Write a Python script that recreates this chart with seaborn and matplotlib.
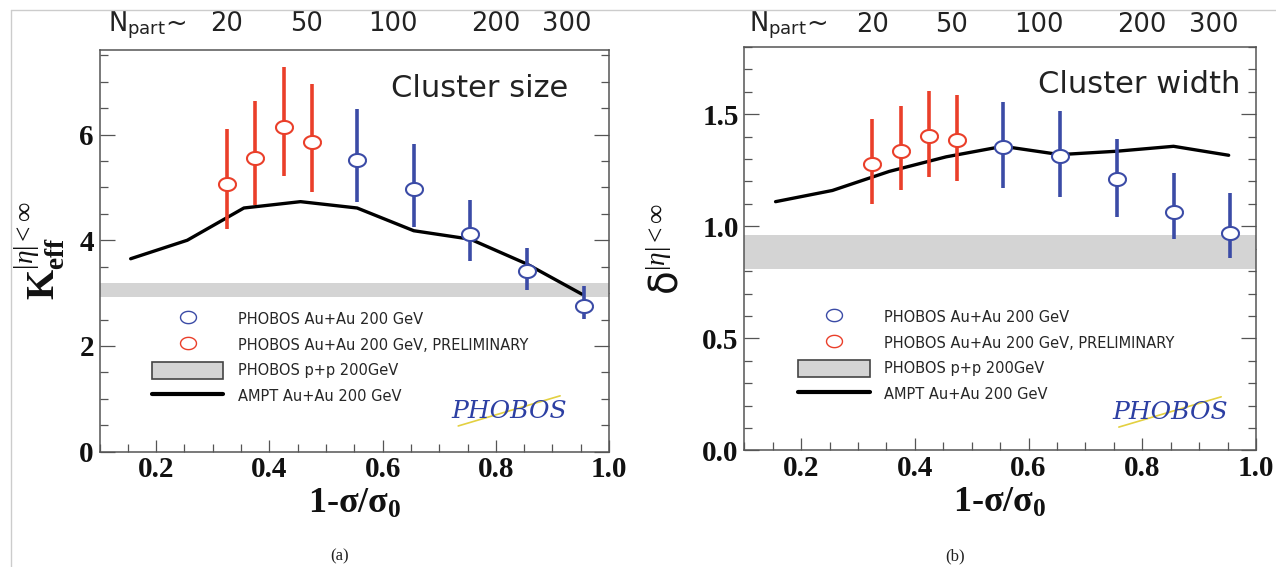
import numpy as np
import matplotlib
matplotlib.use("Agg")
import matplotlib.pyplot as plt
from matplotlib.lines import Line2D
from matplotlib.patches import Patch
from matplotlib.ticker import MultipleLocator
from matplotlib.transforms import blended_transform_factory
import seaborn as sns

# centrality (1 - sigma/sigma0) of the points
x_prelim = [0.325, 0.375, 0.425, 0.475]
x_final = [0.555, 0.655, 0.755, 0.855, 0.955]
x_ampt = [0.155, 0.255, 0.355, 0.455, 0.555, 0.655, 0.755, 0.855, 0.952]

# (a) cluster size K_eff
k_prelim = [5.07, 5.56, 6.14, 5.86]
k_prelim_lo = [4.21, 4.67, 5.22, 4.92]
k_prelim_hi = [6.11, 6.63, 7.27, 6.95]
k_final = [5.51, 4.96, 4.12, 3.41, 2.76]
k_final_lo = [4.73, 4.25, 3.61, 3.06, 2.51]
k_final_hi = [6.49, 5.83, 4.76, 3.85, 3.14]
k_ampt = [3.65, 4.00, 4.61, 4.73, 4.61, 4.18, 4.02, 3.55, 2.98]
k_pp = [2.92, 3.20]

# (b) cluster width delta
w_prelim = [1.28, 1.335, 1.405, 1.385]
w_prelim_lo = [1.10, 1.16, 1.22, 1.20]
w_prelim_hi = [1.48, 1.535, 1.605, 1.585]
w_final = [1.355, 1.315, 1.21, 1.065, 0.97]
w_final_lo = [1.17, 1.13, 1.04, 0.945, 0.86]
w_final_hi = [1.555, 1.515, 1.39, 1.24, 1.15]
w_ampt = [1.11, 1.16, 1.245, 1.31, 1.357, 1.32, 1.335, 1.357, 1.317]
w_pp = [0.81, 0.96]

# N_part scale written above the panels
npart_labels = ["20", "50", "100", "200", "300"]
npart_pos = [0.325, 0.465, 0.618, 0.80, 0.925]

legend_labels = ["PHOBOS Au+Au 200 GeV", "PHOBOS Au+Au 200 GeV, PRELIMINARY",
                 "PHOBOS p+p 200GeV", "AMPT Au+Au 200 GeV"]

sns.set_theme(style="ticks")
plt.rcParams["font.family"] = ["DejaVu Sans"]
plt.rcParams["mathtext.fontset"] = "custom"
plt.rcParams["mathtext.rm"] = "Liberation Serif"
plt.rcParams["mathtext.it"] = "Liberation Serif:italic"
plt.rcParams["mathtext.bf"] = "Liberation Serif:bold"
plt.rcParams["mathtext.sf"] = "DejaVu Sans"

BLUE = "#3b4ba6"
RED = "#ea3f2a"
BAND = "#d4d4d4"
AXC = "#555555"

# the published figure is stretched sideways, so the circles are ellipses
t = np.linspace(0, 2 * np.pi, 60)
ellipse = np.column_stack([1.3 * np.cos(t), np.sin(t)])


def draw_panel(ax, prelim, prelim_lo, prelim_hi, final, final_lo, final_hi,
               ampt, pp, ylim, major, minor):
    ax.axhspan(pp[0], pp[1], color=BAND, lw=0, zorder=1)
    sns.lineplot(x=x_ampt, y=ampt, color="black", lw=2.4, ax=ax, zorder=2, legend=False)
    for xs, ys, lo, hi, c in [(x_prelim, prelim, prelim_lo, prelim_hi, RED),
                              (x_final, final, final_lo, final_hi, BLUE)]:
        ys = np.array(ys)
        err = [ys - np.array(lo), np.array(hi) - ys]
        ax.errorbar(xs, ys, yerr=err, fmt="none", ecolor=c, elinewidth=2.6,
                    capsize=0, zorder=3)
        sns.scatterplot(x=xs, y=ys, marker=ellipse, s=150, color=c, facecolor="white",
                        edgecolor=c, linewidth=1.5, ax=ax, zorder=4, legend=False)

    ax.set_xlim(0.1, 1.0)
    ax.set_ylim(*ylim)
    ax.xaxis.set_major_locator(MultipleLocator(0.2))
    ax.xaxis.set_minor_locator(MultipleLocator(0.05))
    ax.yaxis.set_major_locator(MultipleLocator(major))
    ax.yaxis.set_minor_locator(MultipleLocator(minor))
    ax.tick_params(which="both", direction="in", left=True, right=True, bottom=True,
                   top=False, color=AXC, width=0.9, labelsize=21, labelcolor="#111111")
    ax.tick_params(which="major", length=11)
    ax.tick_params(which="minor", length=5.5)
    ax.tick_params(axis="x", which="major", length=9, pad=3)
    ax.tick_params(axis="y", which="major", pad=4)
    plt.setp(ax.get_xticklabels() + ax.get_yticklabels(),
             family="Liberation Serif", weight="bold")
    for s in ax.spines.values():
        s.set_color(AXC)
        s.set_linewidth(1.1)

    ax.set_xlabel(r"1-σ/σ$_{\mathbf{0}}$", family="Liberation Serif", weight="bold",
                  fontsize=26, color="#111111")
    ax.xaxis.set_label_coords(0.5, -0.09)

    handles = [Line2D([], [], marker=ellipse, ls="none", mfc="white", mec=BLUE, ms=11.5, mew=1.0),
               Line2D([], [], marker=ellipse, ls="none", mfc="white", mec=RED, ms=11.5, mew=1.0),
               Patch(facecolor=BAND, edgecolor="#444444", lw=1.2),
               Line2D([], [], color="black", lw=3)]
    return handles


fig = plt.figure(figsize=(12.76, 5.67), dpi=100)
fig.patch.set_facecolor("white")
ax1 = fig.add_axes([0.078, 0.2034, 0.3993, 0.7085])
ax2 = fig.add_axes([0.5833, 0.2055, 0.401, 0.7116])

h1 = draw_panel(ax1, k_prelim, k_prelim_lo, k_prelim_hi, k_final, k_final_lo, k_final_hi,
                k_ampt, k_pp, (0, 7.6), 2, 0.5)
h2 = draw_panel(ax2, w_prelim, w_prelim_lo, w_prelim_hi, w_final, w_final_lo, w_final_hi,
                w_ampt, w_pp, (0, 1.8), 0.5, 0.1)

ax1.set_ylabel(r"$\mathbf{K}_{\mathbf{eff}}^{|\eta|<\infty}$", fontsize=28, color="#111111")
ax1.yaxis.set_label_coords(-0.064, 0.5)
ax2.set_ylabel(r"$\mathsf{\delta}^{|\eta|<\infty}$", fontsize=28, color="#111111")
ax2.yaxis.set_label_coords(-0.112, 0.5)

leg_kw = dict(loc="upper left", frameon=False, prop=dict(family="DejaVu Sans", size=10.5),
              handlelength=4.9, handleheight=1.47, labelspacing=0.56, handletextpad=1.0,
              borderpad=0, borderaxespad=0)
ax1.legend(h1, legend_labels, bbox_to_anchor=(0.1027, 0.352), **leg_kw)
ax2.legend(h2, legend_labels, bbox_to_anchor=(0.1057, 0.3524), **leg_kw)

# panel titles
ax1.text(0.9195, 0.8837, "Cluster size", transform=ax1.transAxes, ha="right",
         va="baseline", fontsize=22, color="#222222")
ax2.text(0.9687, 0.885, "Cluster width", transform=ax2.transAxes, ha="right",
         va="baseline", fontsize=22, color="#222222")

# N_part scale on top
for ax, ybase, xstart in [(ax1, 1.046, 0.0167), (ax2, 1.0384, 0.01)]:
    trans = blended_transform_factory(ax.transData, ax.transAxes)
    for p, lab in zip(npart_pos, npart_labels):
        ax.text(p, ybase, lab, transform=trans, ha="center", va="baseline",
                fontsize=18.5, color="#222222")
    ax.text(xstart, ybase, r"N$_{\mathsf{part}}$~", transform=ax.transAxes, ha="left",
            va="baseline", fontsize=18.5, color="#222222")

# PHOBOS logo
for ax, cx, cy in [(ax1, 0.804, 0.099), (ax2, 0.832, 0.093)]:
    ax.plot([cx - 0.10, cx + 0.10], [cy - 0.035, cy + 0.04], transform=ax.transAxes,
            color="#e3d040", lw=1.2, zorder=5)
    ax.text(cx, cy, "PHOBOS", transform=ax.transAxes, ha="center", va="center",
            color="#2c3fa3", fontsize=18, family="DejaVu Serif", style="italic", zorder=6)

# sub-figure captions
fig.text(340 / 1276, 1 - 556 / 567, "(a)", ha="center", va="center",
         family="Liberation Serif", fontsize=12, color="#222222")
fig.text(955 / 1276, 1 - 556 / 567, "(b)", ha="center", va="center",
         family="Liberation Serif", fontsize=12, color="#222222")

# thin page frame
fig.add_artist(Line2D([11 / 1276, 1], [1 - 10 / 567] * 2, color="#cccccc", lw=1))
fig.add_artist(Line2D([11 / 1276] * 2, [0, 1 - 10 / 567], color="#cccccc", lw=1))

fig.savefig("out.png", dpi=100)
